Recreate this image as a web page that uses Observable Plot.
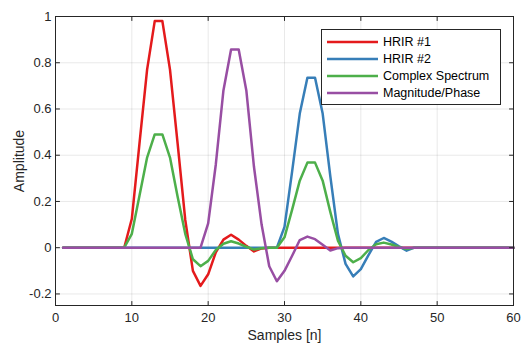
<!DOCTYPE html>
<html>
<head>
<meta charset="utf-8">
<script src="https://cdn.jsdelivr.net/npm/d3@7"></script>
<script src="https://cdn.jsdelivr.net/npm/@observablehq/plot@0.6"></script>
<style>
  body { margin: 0; background: #fff; }
  #wrap { position: relative; width: 521px; height: 343px; font-family: "Liberation Sans", Arial, Helvetica, sans-serif; }
  #legend { position: absolute; left: 321px; top: 29px; width: 178px; height: 71px; border: 1px solid #262626; background: #fff; box-sizing: content-box; padding-top: 3px; }
  .row { height: 17px; display: flex; align-items: center; font-size: 12.5px; color: #000; white-space: nowrap; }
  .row svg { margin-left: 5px; margin-right: 5px; }
</style>
</head>
<body>
<div id="wrap"><div id="chart"></div><div id="legend"></div></div>
<script>
const samples = d3.range(1, 61);
const seriesNames = ["HRIR #1", "HRIR #2", "Complex Spectrum", "Magnitude/Phase"];
const seriesColors = ["#e41a1c", "#377eb8", "#4daf4a", "#984ea3"];

// HRIR #1 (n = 1..60)
const hrir1 = [0,0,0,0,0,0,0,0,0,0.125,
  0.45,0.77,0.98,0.98,0.77,0.45,0.12,-0.1,-0.165,-0.115,
  -0.02,0.035,0.056,0.035,0.008,-0.016,-0.003,0,0,0,
  0,0,0,0,0,0,0,0,0,0,
  0,0,0,0,0,0,0,0,0,0,
  0,0,0,0,0,0,0,0,0,0];
// HRIR #2
const hrir2 = [0,0,0,0,0,0,0,0,0,0,
  0,0,0,0,0,0,0,0,0,0,
  0,0,0,0,0,0,0,0,0,0.09,
  0.33,0.58,0.735,0.735,0.58,0.31,0.06,-0.07,-0.124,-0.093,
  -0.032,0.025,0.042,0.026,0.006,-0.013,0,0,0,0,
  0,0,0,0,0,0,0,0,0,0];
// Complex Spectrum
const complexSpec = [0,0,0,0,0,0,0,0,0,0.06,
  0.225,0.39,0.49,0.49,0.39,0.22,0.06,-0.05,-0.08,-0.057,
  -0.01,0.017,0.028,0.018,0.004,-0.008,-0.002,0,0,0.045,
  0.165,0.29,0.368,0.368,0.29,0.155,0.03,-0.035,-0.063,-0.045,
  -0.01,0.015,0.022,0.014,0.003,-0.006,0,0,0,0,
  0,0,0,0,0,0,0,0,0,0];
// Magnitude/Phase
const magPhase = [0,0,0,0,0,0,0,0,0,0,
  0,0,0,0,0,0,0,0,0,0.105,
  0.36,0.68,0.857,0.857,0.68,0.35,0.1,-0.08,-0.145,-0.1,
  -0.035,0.033,0.048,0.037,0.013,-0.012,-0.002,0,0,0,
  0,0,0,0,0,0,0,0,0,0,
  0,0,0,0,0,0,0,0,0,0];

const xTicks = [0, 10, 20, 30, 40, 50, 60];
const yTicks = [-0.2, 0, 0.2, 0.4, 0.6, 0.8, 1];
const xLabel = "Samples [n]";
const yLabel = "Amplitude";

const seriesValues = [hrir1, hrir2, complexSpec, magPhase];
const axisColor = "#262626";
const tickShape = { draw(ctx, l) { ctx.moveTo(0, 0); ctx.lineTo(0, -l); } };
const inTick = (data, opts) => Plot.vector(data, { length: 4, anchor: "start", shape: tickShape, stroke: axisColor, strokeWidth: 1, ...opts });

const chart = Plot.plot({
  width: 521,
  height: 343,
  marginLeft: 55,
  marginRight: 8,
  marginTop: 16,
  marginBottom: 38,
  style: { fontFamily: "'Liberation Sans', Arial, Helvetica, sans-serif", fontSize: "13px", color: axisColor, background: "#fff" },
  x: { domain: [0, 60] },
  y: { domain: [-0.25, 1] },
  marks: [
    Plot.gridX(xTicks, { stroke: axisColor, strokeOpacity: 0.1, strokeWidth: 1 }),
    Plot.gridY(yTicks, { stroke: axisColor, strokeOpacity: 0.1, strokeWidth: 1 }),
    ...seriesValues.map((vals, i) => Plot.lineY(vals, { x: samples, stroke: seriesColors[i], strokeWidth: 2.5, strokeLinejoin: "round" })),
    Plot.frame({ stroke: axisColor, strokeWidth: 1 }),
    inTick(xTicks, { x: d => d, frameAnchor: "bottom", rotate: 0 }),
    inTick(xTicks, { x: d => d, frameAnchor: "top", rotate: 180 }),
    inTick(yTicks, { y: d => d, frameAnchor: "left", rotate: 90 }),
    inTick(yTicks, { y: d => d, frameAnchor: "right", rotate: 270 }),
    Plot.axisX({ ticks: xTicks, tickSize: 0, tickPadding: 7, tickFormat: d => String(d), label: null, fontSize: 13, fill: axisColor }),
    Plot.axisY({ ticks: yTicks, tickSize: 0, tickPadding: 4, tickFormat: d => String(d), label: null, fontSize: 13, fill: axisColor }),
    Plot.text([xLabel], { frameAnchor: "bottom", dy: 30, textAnchor: "middle", lineAnchor: "middle", fontSize: 14, fill: axisColor }),
    Plot.text([yLabel], { frameAnchor: "left", dx: -36, rotate: -90, textAnchor: "middle", lineAnchor: "middle", fontSize: 14, fill: axisColor })
  ]
});
document.getElementById("chart").appendChild(chart);

const legend = document.getElementById("legend");
seriesNames.forEach((name, i) => {
  const row = document.createElement("div");
  row.className = "row";
  row.innerHTML = `<svg width="51" height="6"><line x1="0" x2="51" y1="3" y2="3" stroke="${seriesColors[i]}" stroke-width="2.5"/></svg><span></span>`;
  row.querySelector("span").textContent = name;
  legend.appendChild(row);
});
</script>
</body>
</html>
